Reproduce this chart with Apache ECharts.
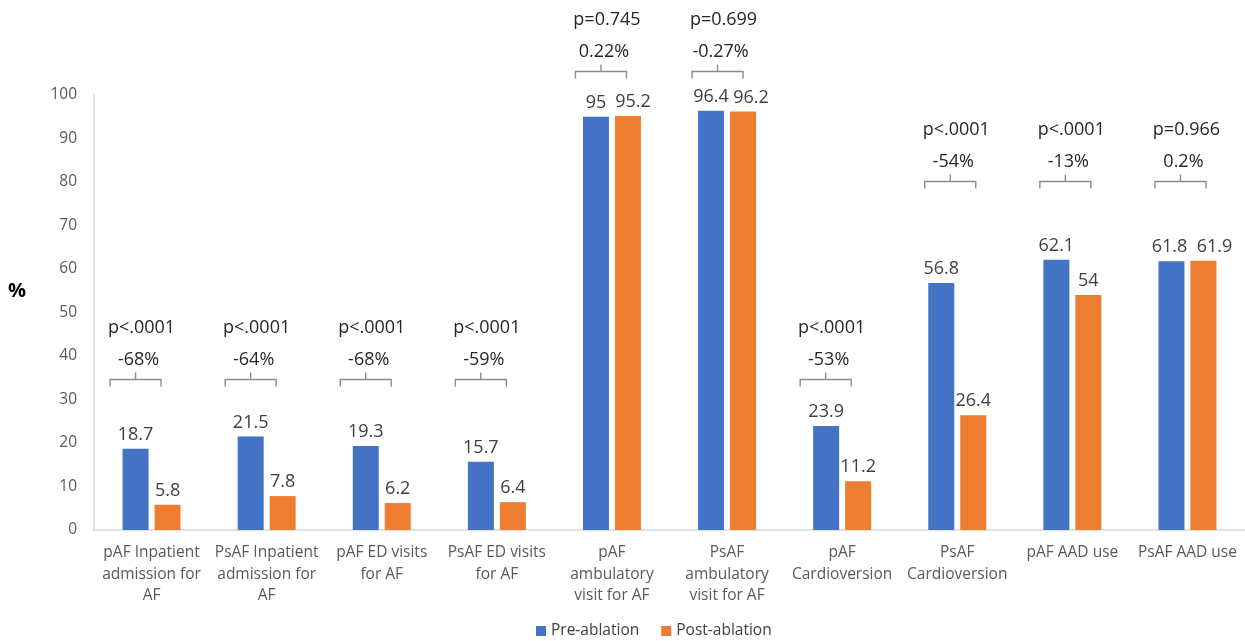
<!DOCTYPE html>
<html>
<head>
<meta charset="utf-8">
<title>AF healthcare utilization before and after ablation</title>
<script src="https://cdn.jsdelivr.net/npm/echarts@6/dist/echarts.min.js"></script>
<style>
  html, body { margin: 0; padding: 0; background: #ffffff; }
  #chart { width: 1245px; height: 641px; }
</style>
</head>
<body>
<div id="chart"></div>
<script>
// Outcome categories (line breaks as shown under the axis)
const categories = [
  'pAF Inpatient\nadmission for\nAF',
  'PsAF Inpatient\nadmission for\nAF',
  'pAF ED visits\nfor AF',
  'PsAF ED visits\nfor AF',
  'pAF\nambulatory\nvisit for AF',
  'PsAF\nambulatory\nvisit for AF',
  'pAF\nCardioversion',
  'PsAF\nCardioversion',
  'pAF AAD use',
  'PsAF AAD use'
];

// Percent of patients, before and after ablation
const preAblation  = [18.7, 21.5, 19.3, 15.7, 95, 96.4, 23.9, 56.8, 62.1, 61.8];
const postAblation = [5.8, 7.8, 6.2, 6.4, 95.2, 96.2, 11.2, 26.4, 54, 61.9];

// Relative change and significance for each pair
const changeLabels = ['-68%', '-64%', '-68%', '-59%', '0.22%', '-0.27%', '-53%', '-54%', '-13%', '0.2%'];
const pValues = ['p<.0001', 'p<.0001', 'p<.0001', 'p<.0001', 'p=0.745', 'p=0.699', 'p<.0001', 'p<.0001', 'p<.0001', 'p=0.966'];

// Y axis ticks
const yTicks = [0, 10, 20, 30, 40, 50, 60, 70, 80, 90, 100];

// Annotation layout: bracket height (axis units) and horizontal nudge (px)
const bracketLevel = [34.6, 34.6, 34.6, 34.6, 105.4, 105.4, 34.6, 80.1, 80.1, 80.1];
const bracketShift = [-16, -16, -16, -16, -11, -9.5, -16.5, -7, -7, -7];
// Sideways nudge (px) of value labels where neighbouring labels would collide
const preLabelNudge  = [0, 0, 0, 0, 0, 0, 0, 0, 0, -2];
const postLabelNudge = [0, 0, 0, 0, 5, 8, 0, 0, 0, 11];

const FONT = '"Open Sans", "Noto Sans", sans-serif';
const BLUE = '#4472C4';
const ORANGE = '#ED7D31';

const annotationData = categories.map((c, i) => [i, bracketLevel[i], changeLabels[i], pValues[i]]);

function withNudge(values, nudges) {
  return values.map((v, i) => ({ value: v, label: { offset: [nudges[i], 0] } }));
}

function renderBracket(params, api) {
  const idx = api.value(0);
  const pt = api.coord([idx, api.value(1)]);
  const cx = pt[0] + bracketShift[idx];
  const y = pt[1];
  const half = 25.5;
  const stroke = { stroke: '#8c8c8c', lineWidth: 1.4, fill: null };
  return {
    type: 'group',
    children: [
      { type: 'polyline', shape: { points: [[cx - half, y + 7], [cx - half, y], [cx + half, y], [cx + half, y + 7]] }, style: stroke },
      { type: 'line', shape: { x1: cx, y1: y, x2: cx, y2: y - 7 }, style: stroke },
      { type: 'text', x: cx + 3, y: y - 20, style: { text: changeLabels[idx], fill: '#262626', font: '18px ' + FONT, align: 'center', verticalAlign: 'middle' } },
      { type: 'text', x: cx + 6, y: y - 52, style: { text: pValues[idx], fill: '#262626', font: '18px ' + FONT, align: 'center', verticalAlign: 'middle' } }
    ]
  };
}

const chart = echarts.init(document.getElementById('chart'), null, { renderer: 'canvas' });

const valueLabel = { show: true, position: 'top', distance: 5, fontSize: 18, color: '#404040', fontFamily: FONT };

chart.setOption({
  backgroundColor: '#ffffff',
  animation: false,
  textStyle: { fontFamily: FONT },
  grid: { left: 94, right: 0, top: 95, bottom: 111 },
  // Y axis unit label
  graphic: [
    {
      type: 'text',
      left: 8,
      top: 281,
      style: { text: '%', fill: '#000000', font: 'bold 20px ' + FONT }
    }
  ],
  legend: {
    bottom: 2,
    left: 536,
    padding: 0,
    itemWidth: 10,
    itemHeight: 10,
    itemGap: 22,
    icon: 'rect',
    textStyle: { fontSize: 15.5, color: '#404040', fontFamily: FONT },
    data: ['Pre-ablation', 'Post-ablation']
  },
  xAxis: {
    type: 'category',
    data: categories,
    axisLine: { show: true, lineStyle: { color: '#d9d9d9', width: 1.5 } },
    axisTick: { show: false },
    axisLabel: {
      interval: 0,
      margin: 12,
      fontSize: 15.5,
      lineHeight: 21.5,
      color: '#595959',
      fontFamily: FONT
    }
  },
  yAxis: {
    type: 'value',
    min: 0,
    max: 100,
    interval: 10,
    splitLine: { show: false },
    axisLine: { show: true, lineStyle: { color: '#d9d9d9', width: 1.5 } },
    axisTick: { show: false },
    axisLabel: {
      margin: 17,
      fontSize: 15.5,
      color: '#595959',
      fontFamily: FONT,
      customValues: yTicks
    }
  },
  series: [
    {
      name: 'Pre-ablation',
      type: 'bar',
      data: withNudge(preAblation, preLabelNudge),
      barWidth: 26,
      barGap: '23%',
      itemStyle: { color: BLUE },
      label: valueLabel
    },
    {
      name: 'Post-ablation',
      type: 'bar',
      data: withNudge(postAblation, postLabelNudge),
      barWidth: 26,
      barGap: '23%',
      itemStyle: { color: ORANGE },
      label: valueLabel
    },
    {
      name: 'significance',
      type: 'custom',
      data: annotationData,
      renderItem: renderBracket,
      clip: false,
      silent: true,
      z: 5
    }
  ]
});
</script>
</body>
</html>
